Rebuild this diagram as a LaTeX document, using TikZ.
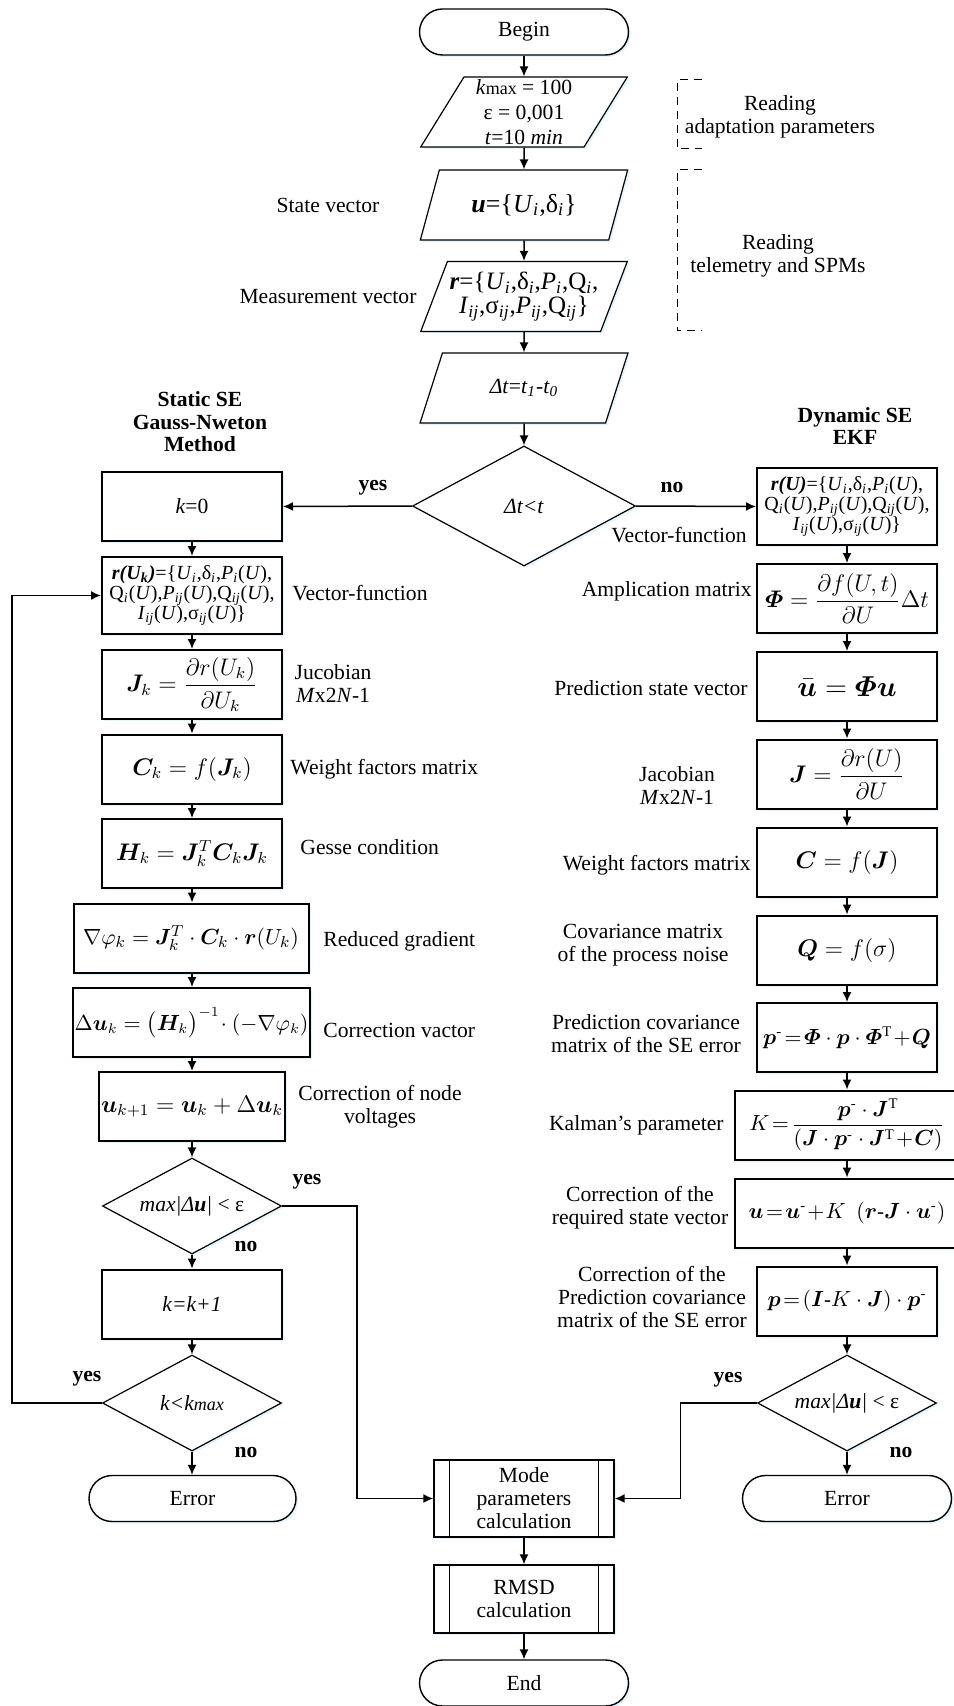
\documentclass[tikz,border=0pt]{standalone}
\usepackage{amsmath}
\usepackage{bm}
\usepackage{fontspec}
\setmainfont{Liberation Serif}
\usetikzlibrary{arrows.meta, shapes.geometric, shadows}

\newcommand{\isub}[1]{\textsubscript{\textit{#1}}}
\newcommand{\mns}{\text{-}}

\tikzset{
  base/.style={font=\fontsize{10.8}{11.5}\selectfont, align=center, fill=white, inner sep=1pt,
    drop shadow={shadow xshift=1pt, shadow yshift=-1pt, fill=cyan!12, opacity=1}},
  procbox/.style={base, draw, line width=1pt, rectangle, minimum width=90pt, minimum height=34.5pt},
  iobox/.style={base, draw, line width=0.6pt, trapezium, trapezium left angle=62,
    trapezium right angle=118, trapezium stretches=true, inner sep=0pt,
    minimum width=104pt, minimum height=35pt},
  termbox/.style={base, draw, line width=0.7pt, rounded corners=11.5pt,
    minimum width=104.5pt, minimum height=23pt},
  decbox/.style={base, draw, line width=0.6pt, diamond, aspect=1.86, inner sep=0pt,
    minimum width=89.5pt, minimum height=48pt},
  subbox/.style={procbox, line width=0.7pt, minimum height=38.5pt},
  vecbox/.style={procbox, minimum height=38.5pt, inner xsep=0pt, font=\fontsize{10}{10.2}\selectfont},
  formula/.style={font=\fontsize{12}{13}\selectfont},
  smallformula/.style={font=\fontsize{10.5}{12}\selectfont},
  note/.style={font=\fontsize{10.8}{11.5}\selectfont, align=center, inner sep=0pt},
  heading/.style={note, font=\fontsize{10.8}{11.3}\selectfont\bfseries},
  answer/.style={font=\fontsize{10.8}{11.5}\selectfont\bfseries, inner sep=0pt},
  flow/.style={-{Latex[length=5pt,width=4.5pt]}, line width=0.75pt},
  bracket/.style={line width=0.5pt, dash pattern=on 4pt off 3pt},
}

\begin{document}
\begin{tikzpicture}[x=0.5pt, y=-0.5pt]
\useasboundingbox (0,0) rectangle (953,1706);

% main column
\node[termbox] (begin) at (524,32) {Begin};
\node[iobox] (params) at (524,112) {\textit{k}{\small max} = 100\\[1pt] ε = 0,001\\[1pt] \textit{t}=10 \textit{min}};
\node[iobox, font=\fontsize{13}{14}\selectfont] (state) at (524,205) {\textbf{\textit{u}}=\{\textit{U}\isub{i},δ\isub{i}\}};
\node[iobox, font=\fontsize{12.5}{12}\selectfont] (meas) at (524,296.5)
  {\textbf{\textit{r}}=\{\textit{U}\isub{i},δ\isub{i},\textit{P}\isub{i},Q\isub{i},\\
   \textit{I}\isub{ij},σ\isub{ij},\textit{P}\isub{ij},Q\isub{ij}\}};
\node[iobox] (dt) at (524,388) {\textit{Δt}=\textit{t}\isub{1}-\textit{t}\isub{0}};
\node[decbox, minimum width=111.5pt, minimum height=60pt] (check) at (524,506) {\textit{Δt<t}};

% static SE
\node[heading] (statichead) at (200,422) {Static SE\\Gauss-Nweton\\Method};
\node[procbox] (k0) at (192,506.5) {\textit{k}=0};
\node[vecbox] (rUk) at (192,595.5)
  {\textbf{\textit{r(U\textsubscript{k})}}=\{\textit{U}\isub{i},δ\isub{i},\textit{P}\isub{i}(\textit{U}),\\
   Q\isub{i}(\textit{U}),\textit{P}\isub{ij}(\textit{U}),Q\isub{ij}(\textit{U}),\\
   \textit{I}\isub{ij}(\textit{U}),σ\isub{ij}(\textit{U})\}};
\node[procbox, formula] (Jk) at (192,684.5) {$\bm{J}_k=\dfrac{\partial r(U_k)}{\partial U_k}$};
\node[procbox, formula] (Ck) at (192,769) {$\bm{C}_k=f(\bm{J}_k)$};
\node[procbox, formula] (Hk) at (192,853.5) {$\bm{H}_k=\bm{J}_k^{T}\bm{C}_k\bm{J}_k$};
\node[procbox, smallformula, font=\fontsize{11}{12}\selectfont, minimum width=117.5pt] (grad) at (191,938)
  {$\nabla\varphi_k=\bm{J}_k^{T}\cdot\bm{C}_k\cdot\bm{r}(U_k)$};
\node[procbox, smallformula, minimum width=116.5pt] (du) at (191.5,1022.5)
  {$\Delta\bm{u}_k=\big(\bm{H}_k\big)^{-1}\!\cdot(-\nabla\varphi_k)$};
\node[procbox, formula] (uk1) at (192,1106.5) {$\bm{u}_{k+1}=\bm{u}_k+\Delta\bm{u}_k$};
\node[decbox] (conv1) at (192,1206) {\textit{max|Δ\textbf{u}|} < ε};
\node[procbox] (kk1) at (192,1304) {\textit{k=k+1}};
\node[decbox] (kmax) at (192,1403) {\textit{k<k{\small max}}};
\node[termbox, minimum width=103.5pt] (err1) at (192.5,1498.5) {Error};

% dynamic SE
\node[heading] (dynhead) at (855,426) {Dynamic SE\\EKF};
\node[vecbox] (rU) at (847,506.5)
  {\textbf{\textit{r(U)}}=\{\textit{U}\isub{i},δ\isub{i},\textit{P}\isub{i}(\textit{U}),\\
   Q\isub{i}(\textit{U}),\textit{P}\isub{ij}(\textit{U}),Q\isub{ij}(\textit{U}),\\
   \textit{I}\isub{ij}(\textit{U}),σ\isub{ij}(\textit{U})\}};
\node[procbox, formula, font=\fontsize{11.5}{13}\selectfont] (Phi) at (847,598.5) {$\bm{\varPhi}=\dfrac{\partial f(U,t)}{\partial U}\Delta t$};
\node[procbox, font=\fontsize{14}{16}\selectfont] (upred) at (847,686.5) {$\bar{\bm{u}}=\bm{\varPhi}\bm{u}$};
\node[procbox, formula] (Jac) at (847,774) {$\bm{J}=\dfrac{\partial r(U)}{\partial U}$};
\node[procbox, formula] (Cw) at (847,862) {$\bm{C}=f(\bm{J})$};
\node[procbox, formula] (Qn) at (847,950) {$\bm{Q}=f(\sigma)$};
\node[procbox, smallformula] (ppred) at (847,1037.5)
  {$\bm{p}^{\mns}\!=\!\bm{\varPhi}\cdot\bm{p}\cdot\bm{\varPhi}^{\mathrm{T}}\!+\!\bm{Q}$};
\node[procbox, smallformula, minimum width=112pt] (Kal) at (847,1125)
  {$K\!=\!\dfrac{\bm{p}^{\mns}\cdot\bm{J}^{\mathrm{T}}}{(\bm{J}\cdot\bm{p}^{\mns}\cdot\bm{J}^{\mathrm{T}}\!+\!\bm{C})}$};
\node[procbox, smallformula, minimum width=112pt] (ucor) at (847,1213)
  {$\bm{u}\!=\!\bm{u}^{\mns}\!+\!K\ \ (\bm{r}\mns\bm{J}\cdot\bm{u}^{\mns})$};
\node[procbox, smallformula] (pcor) at (847,1301) {$\bm{p}\!=\!(\bm{I}\mns K\cdot\bm{J})\cdot\bm{p}^{\mns}$};
\node[decbox] (conv2) at (847,1403) {\textit{max|Δ\textbf{u}|} < ε};
\node[termbox] (err2) at (847,1498.5) {Error};

% common end
\node[subbox] (mode) at (524,1498.5) {Mode\\parameters\\calculation};
\node[subbox, minimum height=34pt] (rmsd) at (524,1599) {RMSD\\calculation};
\node[termbox] (end) at (524,1683) {End};
\foreach \n in {mode,rmsd}
  \draw[line width=0.7pt] ([xshift=8pt]\n.north west) -- ([xshift=8pt]\n.south west)
    ([xshift=-8pt]\n.north east) -- ([xshift=-8pt]\n.south east);

% side notes
\node[note] (lstate) at (328,205) {State vector};
\node[note] (lmeas) at (328,297) {Measurement vector};
\node[note] (lread1) at (780,117) {Reading\\adaptation parameters};
\node[note] (lread2) at (778,256) {Reading\\telemetry and SPMs};
\draw[bracket] (702,80) -- (677,80) -- (677,149) -- (702,149);
\draw[bracket] (702,170) -- (677,170) -- (677,331) -- (702,331);

\node[note, anchor=west] (lvf1) at (292,593) {Vector-function};
\node[note] (ljac1) at (333,684) {Jucobian\\\textit{M}x2\textit{N}-1};
\node[note, anchor=west] (lwf1) at (290,769) {Weight factors matrix};
\node[note, anchor=west] (lgesse) at (300,847) {Gesse condition};
\node[note, anchor=west] (lgrad) at (323,941) {Reduced gradient};
\node[note, anchor=west] (lcorv) at (323,1030) {Correction vactor};
\node[note] (lnode) at (380,1107) {Correction of node\\voltages};

\node[note, anchor=east] (lvf2) at (747,535) {Vector-function};
\node[note, anchor=east] (lampl) at (752,591) {Amplication matrix};
\node[note, anchor=east] (lpsv) at (748,688) {Prediction state vector};
\node[note] (ljac2) at (677,785) {Jacobian\\\textit{M}x2\textit{N}-1};
\node[note, anchor=east] (lwf2) at (751,865) {Weight factors matrix};
\node[note] (lcov) at (643,945) {Covariance matrix\\of the process noise};
\node[note] (lpcov) at (646,1034) {Prediction covariance\\matrix of the SE error};
\node[note, anchor=east] (lkal) at (724,1125) {Kalman’s parameter};
\node[note] (lcsv) at (640,1208) {Correction of the\\required state vector};
\node[note] (lcpc) at (652,1297) {Correction of the\\Prediction covariance\\matrix of the SE error};

% yes / no
\node[answer] (yes0) at (373,488) {yes};
\node[answer] (no0) at (672,488) {no};
\node[answer] (yes1) at (307,1182) {yes};
\node[answer] (no1) at (246,1247) {no};
\node[answer] (yes2) at (87,1379) {yes};
\node[answer] (no2) at (246,1452) {no};
\node[answer] (yes3) at (728,1380) {yes};
\node[answer] (no3) at (901,1452) {no};

% connectors
\draw[flow] (begin) -- (params);
\draw[flow] (params) -- (state);
\draw[flow] (state) -- (meas);
\draw[flow] (meas) -- (dt);
\draw[flow] (dt) -- (check);
\draw[flow] (check.west) -- (k0.east);
\draw[flow] (check.east) -- (rU.west);

\draw[flow] (k0) -- (rUk);
\draw[flow] (rUk) -- (Jk);
\draw[flow] (Jk) -- (Ck);
\draw[flow] (Ck) -- (Hk);
\draw[flow] (Hk) -- (grad.north -| Hk);
\draw[flow] (grad.south -| Hk) -- (du.north -| Hk);
\draw[flow] (du.south -| Hk) -- (uk1);
\draw[flow] (uk1) -- (conv1);
\draw[flow] (conv1) -- (kk1);
\draw[flow] (kk1) -- (kmax);
\draw[flow] (kmax) -- (err1.north -| kmax);
\draw[flow] (conv1.east) -- ++(75,0) |- (mode.west);
\draw[flow] (kmax.west) -- ++(-90,0) |- (rUk.west);

\draw[flow] (rU) -- (Phi);
\draw[flow] (Phi) -- (upred);
\draw[flow] (upred) -- (Jac);
\draw[flow] (Jac) -- (Cw);
\draw[flow] (Cw) -- (Qn);
\draw[flow] (Qn) -- (ppred);
\draw[flow] (ppred) -- (Kal);
\draw[flow] (Kal) -- (ucor);
\draw[flow] (ucor) -- (pcor);
\draw[flow] (pcor) -- (conv2);
\draw[flow] (conv2) -- (err2);
\draw[flow] (conv2.west) -- ++(-76.5,0) |- (mode.east);

\draw[flow] (mode) -- (rmsd);
\draw[flow] (rmsd) -- (end);
\end{tikzpicture}
\end{document}
